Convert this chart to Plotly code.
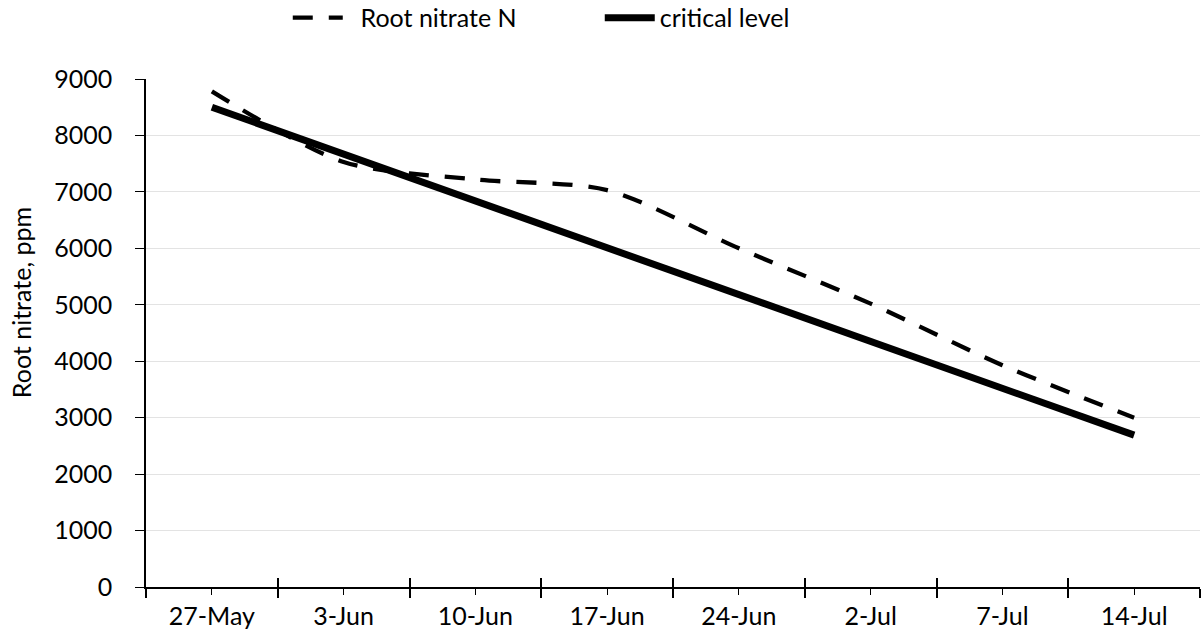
import plotly.graph_objects as go

# Sampling dates (category axis labels)
dates = ["27-May", "3-Jun", "10-Jun", "17-Jun", "24-Jun", "2-Jul", "7-Jul", "14-Jul"]

# Root nitrate-N, ppm
root_nitrate = [8780, 7530, 7220, 7030, 6000, 5020, 3930, 3000]

# Critical sufficiency level, ppm
critical_level = [8500, 7670, 6840, 6010, 5180, 4350, 3520, 2690]

y_ticks = list(range(0, 9001, 1000))

idx = list(range(len(dates)))
bounds = [i - 0.5 for i in range(len(dates) + 1)]

FONT = "Lato"
FS = 25

fig = go.Figure()
fig.add_trace(go.Scatter(
    x=idx, y=root_nitrate, name="\u00a0\u00a0Root nitrate N", mode="lines",
    line=dict(color="black", width=4.3, dash="20px,16px", shape="spline", smoothing=0.8),
))
fig.add_trace(go.Scatter(
    x=idx, y=critical_level, name="critical level", mode="lines",
    line=dict(color="black", width=7),
))

fig.update_layout(
    width=1201, height=641,
    margin=dict(l=146, r=1, t=79, b=54, autoexpand=False),
    paper_bgcolor="white", plot_bgcolor="white",
    font=dict(family=FONT, size=FS, color="black"),
    showlegend=True,
    legend=dict(
        orientation="h", x=0.1345, y=0.972, xanchor="left", yanchor="middle",
        yref="container",
        font=dict(family=FONT, size=FS, color="black"),
        entrywidth=247, itemwidth=50, tracegroupgap=0,
        bgcolor="rgba(0,0,0,0)",
    ),
    xaxis=dict(
        range=[-0.5, len(dates) - 0.5],
        tickmode="array", tickvals=idx, ticktext=dates,
        ticks="outside", ticklen=6, tickwidth=1, tickcolor="black",
        minor=dict(tickmode="array", tickvals=bounds, ticks="outside",
                   ticklen=9, tickwidth=1.5, tickcolor="black", showgrid=False),
        showline=True, linecolor="black", linewidth=1.5,
        showgrid=False, zeroline=False,
        tickfont=dict(family=FONT, size=FS),
        automargin=False,
    ),
    xaxis2=dict(
        overlaying="x", matches="x", anchor="y", side="bottom",
        tickmode="array", tickvals=bounds,
        ticks="inside", ticklen=9, tickwidth=1.5, tickcolor="black",
        showticklabels=False, showline=False, showgrid=False, zeroline=False,
    ),
    yaxis=dict(
        range=[0, 9000], tickmode="array", tickvals=y_ticks,
        ticks="outside", ticklen=9, tickwidth=1, tickcolor="black",
        ticklabelstandoff=18,
        showline=True, linecolor="black", linewidth=1.5,
        showgrid=True, gridcolor="#e3e3e3", gridwidth=1,
        zeroline=False,
        tickfont=dict(family=FONT, size=FS),
        automargin=False,
    ),
    annotations=[dict(
        text="Root nitrate, ppm", textangle=-90,
        xref="paper", yref="paper", x=-0.1185, y=0.559,
        xanchor="center", yanchor="middle", showarrow=False,
        font=dict(family=FONT, size=FS, color="black"),
    )],
)

# transparent point that activates the inside-tick overlay axis
fig.add_trace(go.Scatter(x=[idx[0]], y=[critical_level[0]], xaxis="x2",
                         mode="markers", marker=dict(opacity=0),
                         showlegend=False, hoverinfo="skip"))

fig.write_html("out.html")
